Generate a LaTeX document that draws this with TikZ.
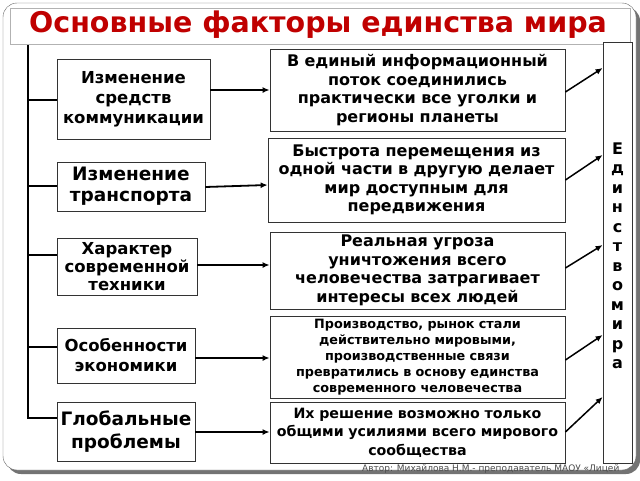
\documentclass[tikz,border=0pt]{standalone}
\usepackage{fontspec}
\setmainfont{DejaVu Sans}
\usetikzlibrary{arrows.meta}
\begin{document}
\begin{tikzpicture}[x=1pt,y=-1pt,
 box/.style={draw=black!80,line width=0.8pt,fill=white,align=center,font=\bfseries\fontsize{16}{18.5}\selectfont,inner sep=1pt},
 ln/.style={line width=2.2pt,black},
 ar/.style={line width=1.8pt,-{Latex[length=7pt,width=6pt]}}]
\useasboundingbox (0,0) rectangle (640,480);
\fill[black!55,rounded corners=14pt] (7,7) rectangle (640,474);
\draw[black!60,fill=white,rounded corners=14pt] (3,3) rectangle (636,470);
\draw[black!30,fill=white] (10,8) rectangle (630,44);
\node (title) at (318,25) {\bfseries\fontsize{28.5}{32}\selectfont\color[HTML]{C00000}Основные факторы единства мира};
% left boxes
\node[box,minimum width=153pt,minimum height=80pt,font=\bfseries\fontsize{16.5}{20}\selectfont] (l1) at (133.5,99) {Изменение\\средств\\коммуникации};
\node[box,minimum width=148pt,minimum height=49pt,font=\bfseries\fontsize{18.5}{21}\selectfont] (l2) at (131,186.5) {Изменение\\транспорта};
\node[box,minimum width=140pt,minimum height=57pt,font=\bfseries\fontsize{16.5}{18}\selectfont] (l3) at (127,266.5) {Характер\\современной\\техники};
\node[box,minimum width=138pt,minimum height=55pt,font=\bfseries\fontsize{16.5}{20}\selectfont] (l4) at (126,355.5) {Особенности\\экономики};
\node[box,minimum width=138pt,minimum height=59pt,font=\bfseries\fontsize{18.5}{23}\selectfont] (l5) at (126,431.5) {Глобальные\\проблемы};
% right boxes
\node[box,minimum width=295pt,minimum height=82pt,text width=293pt] (r1) at (417.5,90) {В единый информационный\\поток соединились\\практически все уголки и\\регионы планеты};
\node[box,minimum width=297pt,minimum height=84pt,text width=295pt] (r2) at (416.5,180) {Быстрота перемещения из\\одной части в другую делает\\мир доступным для\\передвижения};
\node[box,minimum width=295pt,minimum height=77pt,text width=293pt] (r3) at (417.5,270.5) {Реальная угроза\\уничтожения всего\\человечества затрагивает\\интересы всех людей};
\node[box,minimum width=295pt,minimum height=82pt,text width=293pt,font=\bfseries\fontsize{12.8}{16}\selectfont] (r4) at (417.5,357) {Производство, рынок стали\\действительно мировыми,\\производственные связи\\превратились в основу единства\\современного человечества};
\node[box,minimum width=295pt,minimum height=61pt,text width=293pt,font=\bfseries\fontsize{14.2}{18.5}\selectfont] (r5) at (417.5,432.5) {Их решение возможно только\\общими усилиями всего мирового\\сообщества};
% tall box
\node[box,minimum width=29pt,minimum height=421pt] (u) at (617.5,252.5) {};
\node[font=\bfseries\fontsize{16}{19.5}\selectfont,align=center] (ut) at (617.5,256) {Е\\д\\и\\н\\с\\т\\в\\о\\м\\и\\р\\а};
% left bracket
\coordinate (t) at (28,45);
\coordinate (b) at (28,418);
\draw[ln] (t) -- (b) -- (l5.west |- b);
\draw[ln] (28,100) -- (l1.west |- 0,100);
\draw[ln] (28,186) -- (l2.west |- 0,186);
\draw[ln] (28,255) -- (l3.west |- 0,255);
\draw[ln] (28,347) -- (l4.west |- 0,347);
% horizontal arrows
\draw[ar] (l1.east |- 0,90) -- (r1.west |- 0,90);
\draw[ar] (l2.east |- 0,187) -- (r2.west |- 0,185);
\draw[ar] (l3.east |- 0,265) -- (r3.west |- 0,265);
\draw[ar] (l4.east |- 0,358) -- (r4.west |- 0,358);
\draw[ar] (l5.east |- 0,432) -- (r5.west |- 0,432);
% diagonal arrows
\draw[ar,line width=1.5pt] (r1.east |- 0,92) -- (u.west |- 0,68);
\draw[ar,line width=1.5pt] (r2.east |- 0,180) -- (u.west |- 0,155);
\draw[ar,line width=1.5pt] (r3.east |- 0,268) -- (u.west |- 0,245);
\draw[ar,line width=1.5pt] (r4.east |- 0,360) -- (u.west |- 0,335);
\draw[ar,line width=1.5pt] (r5.east |- 0,432) -- (u.west |- 0,397);
\node[anchor=north west,inner sep=0,font=\fontsize{9}{10}\selectfont,text=black!70] (auth) at (362,464) {Автор: Михайлова Н.М.- преподаватель МАОУ «Лицей};
\end{tikzpicture}
\end{document}
